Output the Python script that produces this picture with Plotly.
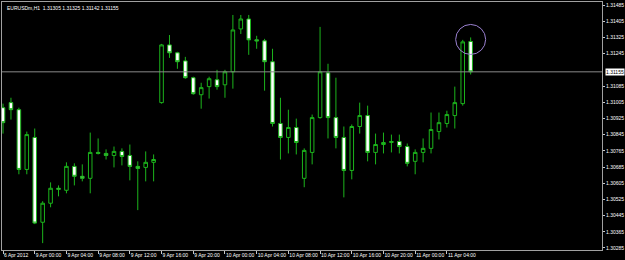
import plotly.graph_objects as go
import pandas as pd

# ---- data (EURUSDm, H1) ----
times = (list(pd.date_range("2012-04-06 20:00", periods=4, freq="h")) +
         list(pd.date_range("2012-04-09 00:00", periods=56, freq="h")))

opens = [1.30978, 1.31003, 1.30968, 1.30673, 1.30831, 1.30412, 1.30506, 1.30580, 1.30570, 1.30688,
         1.30639, 1.30629, 1.30757, 1.30752, 1.30742, 1.30762, 1.30742, 1.30688, 1.30683, 1.30708,
         1.31003, 1.31288, 1.31249, 1.31209, 1.31126, 1.31042, 1.31082, 1.31116, 1.31091, 1.31155,
         1.31367, 1.31416, 1.31313, 1.31308, 1.31205, 1.30900, 1.30831, 1.30880, 1.30629, 1.30757,
         1.30929, 1.31150, 1.30929, 1.30831, 1.30668, 1.30885, 1.30939, 1.30757, 1.30796, 1.30806,
         1.30811, 1.30786, 1.30713, 1.30757, 1.30777, 1.30860, 1.30900, 1.30939, 1.30998, 1.31305]
highs = [1.30998, 1.31027, 1.30978, 1.30860, 1.30875, 1.30516, 1.30609, 1.30594, 1.30708, 1.30703,
         1.30698, 1.30855, 1.30826, 1.30772, 1.30786, 1.30777, 1.30796, 1.30713, 1.30762, 1.30747,
         1.31293, 1.31337, 1.31254, 1.31229, 1.31131, 1.31101, 1.31131, 1.31165, 1.31165, 1.31436,
         1.31436, 1.31436, 1.31333, 1.31318, 1.31269, 1.31027, 1.30968, 1.30924, 1.30777, 1.30944,
         1.31377, 1.31195, 1.31126, 1.30885, 1.30895, 1.31003, 1.30988, 1.30850, 1.30855, 1.30845,
         1.30845, 1.30801, 1.30772, 1.30826, 1.30954, 1.30954, 1.30963, 1.31082, 1.31313, 1.31325]
lows = [1.30850, 1.30919, 1.30649, 1.30649, 1.30403, 1.30309, 1.30486, 1.30540, 1.30555, 1.30594,
        1.30614, 1.30555, 1.30747, 1.30722, 1.30683, 1.30693, 1.30619, 1.30472, 1.30614, 1.30614,
        1.30998, 1.31224, 1.31170, 1.31121, 1.31042, 1.30973, 1.31023, 1.31067, 1.31027, 1.31072,
        1.31342, 1.31239, 1.31269, 1.31062, 1.30885, 1.30722, 1.30752, 1.30747, 1.30585, 1.30698,
        1.30924, 1.30826, 1.30777, 1.30535, 1.30624, 1.30850, 1.30713, 1.30698, 1.30752, 1.30757,
        1.30752, 1.30688, 1.30649, 1.30708, 1.30752, 1.30821, 1.30880, 1.30875, 1.30988, 1.31142]
closes = [1.30904, 1.30968, 1.30673, 1.30845, 1.30408, 1.30506, 1.30580, 1.30575, 1.30688, 1.30639,
          1.30629, 1.30757, 1.30752, 1.30742, 1.30762, 1.30737, 1.30688, 1.30678, 1.30708, 1.30722,
          1.31288, 1.31249, 1.31205, 1.31126, 1.31047, 1.31077, 1.31121, 1.31082, 1.31155, 1.31362,
          1.31416, 1.31313, 1.31308, 1.31205, 1.30900, 1.30831, 1.30880, 1.30806, 1.30767, 1.30929,
          1.31155, 1.30929, 1.30831, 1.30668, 1.30885, 1.30939, 1.30757, 1.30796, 1.30806, 1.30811,
          1.30786, 1.30703, 1.30757, 1.30777, 1.30870, 1.30904, 1.30944, 1.31003, 1.31303, 1.31155]

tick_times = [pd.Timestamp(s) for s in [
    "2012-04-06 20:00", "2012-04-09 00:00", "2012-04-09 04:00", "2012-04-09 08:00",
    "2012-04-09 12:00", "2012-04-09 16:00", "2012-04-09 20:00", "2012-04-10 00:00",
    "2012-04-10 04:00", "2012-04-10 08:00", "2012-04-10 12:00", "2012-04-10 16:00",
    "2012-04-10 20:00", "2012-04-11 00:00", "2012-04-11 04:00"]]
tick_labels = ["6 Apr 2012", "9 Apr 00:00", "9 Apr 04:00", "9 Apr 08:00", "9 Apr 12:00",
               "9 Apr 16:00", "9 Apr 20:00", "10 Apr 00:00", "10 Apr 04:00", "10 Apr 08:00",
               "10 Apr 12:00", "10 Apr 16:00", "10 Apr 20:00", "11 Apr 00:00", "11 Apr 04:00"]

price_ticks = [1.31485, 1.31405, 1.31325, 1.31245, 1.31085, 1.31005, 1.30925, 1.30845,
               1.30765, 1.30685, 1.30605, 1.30525, 1.30445, 1.30365, 1.30285]
bid = 1.31155
title_text = "EURUSDm,H1  1.31305 1.31325 1.31142 1.31155"

# ---- figure ----
pos = list(range(len(times)))
tick_pos = [times.index(t) for t in tick_times]

GREEN = "#1cb41c"
FONT = "Liberation Sans"

fig = go.Figure(go.Candlestick(
    x=pos, open=opens, high=highs, low=lows, close=closes,
    increasing=dict(line=dict(color=GREEN, width=1), fillcolor="#000000"),
    decreasing=dict(line=dict(color=GREEN, width=1), fillcolor="#ffffff"),
    whiskerwidth=0, showlegend=False, hoverinfo="skip",
))

fig.add_shape(type="line", xref="paper", x0=0, x1=1, yref="y", y0=bid, y1=bid,
              line=dict(color="#8a8a8a", width=1))

fig.add_shape(type="circle", xref="x", yref="y",
              xsizemode="pixel", ysizemode="pixel",
              xanchor=pos[-1], yanchor=highs[-1] - 0.0001,
              x0=-15, x1=15, y0=-15, y1=15,
              line=dict(color="#9a80d0", width=1))

fig.add_annotation(text=title_text, xref="paper", yref="paper", x=0, y=1,
                   xanchor="left", yanchor="top", xshift=3, yshift=-1, showarrow=False,
                   font=dict(family=FONT, size=5, color="#ffffff"))

fig.add_annotation(text=f"{bid:.5f}", xref="paper", yref="y", x=1, y=bid,
                   xanchor="left", yanchor="middle", xshift=3, showarrow=False,
                   bgcolor="#ffffff", borderpad=0,
                   font=dict(family=FONT, size=5, color="#000000"))

fig.update_layout(
    width=625, height=260,
    margin=dict(l=1, r=22, t=1, b=10),
    paper_bgcolor="#000000", plot_bgcolor="#000000",
    boxgap=0.36,
    font=dict(family=FONT, size=5, color="#ffffff"),
    xaxis=dict(range=[-0.13, 75.57], rangeslider=dict(visible=False),
               tickvals=tick_pos, ticktext=tick_labels, tickangle=0,
               ticklabelposition="outside right",
               ticks="outside", ticklen=3, tickcolor="#c8c8c8",
               showgrid=False, zeroline=False,
               showline=True, linecolor="#a0a0a0", linewidth=1, mirror=True,
               tickfont=dict(family=FONT, size=5, color="#ffffff")),
    yaxis=dict(range=[1.30275, 1.31500], side="right",
               tickvals=price_ticks, ticktext=[f"{v:.5f}" for v in price_ticks],
               ticks="outside", ticklen=2, tickcolor="#c8c8c8",
               showgrid=False, zeroline=False,
               showline=True, linecolor="#a0a0a0", linewidth=1, mirror=True,
               tickfont=dict(family=FONT, size=5, color="#ffffff")),
)

fig.write_html("out.html")
